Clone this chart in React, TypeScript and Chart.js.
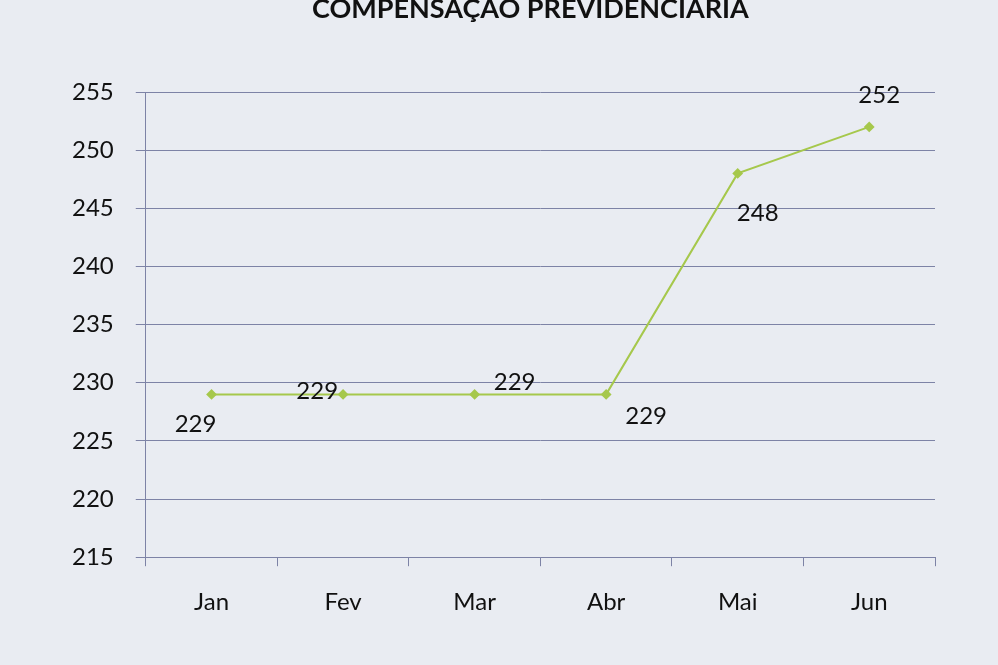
import React, { useEffect, useRef } from "react";
import { Chart, registerables } from "chart.js";

Chart.register(...registerables);

const title = "COMPENSAÇÃO PREVIDENCIÁRIA";
const months = ["Jan", "Fev", "Mar", "Abr", "Mai", "Jun"];
const values = [229, 229, 229, 229, 248, 252];
const valueLabels = ["229", "229", "229", "229", "248", "252"];
const yMin = 215;
const yMax = 255;
const yStep = 5;

// label placement around each point (style only)
const labelPlacement = ["belowLeft", "left", "aboveRight", "belowRight", "belowFar", "above"];

const FONT = "Lato, 'Open Sans', sans-serif";

const labelsPlugin = {
  id: "valueLabels",
  afterDatasetsDraw(chart: any) {
    const ctx = chart.ctx;
    const meta = chart.getDatasetMeta(0);
    ctx.save();
    ctx.font = `24px ${FONT}`;
    ctx.fillStyle = "#111";
    ctx.textBaseline = "middle";
    meta.data.forEach((pt: any, i: number) => {
      const p = labelPlacement[i];
      let dx = 0, dy = 0, align: CanvasTextAlign = "center";
      if (p === "belowLeft") { dx = -16; dy = 30; }
      else if (p === "left") { dx = -5; dy = -3; align = "right"; }
      else if (p === "aboveRight") { dx = 40; dy = -12; }
      else if (p === "belowRight") { dx = 40; dy = 22; }
      else if (p === "belowFar") { dx = 20; dy = 40; }
      else if (p === "above") { dx = 10; dy = -32; }
      ctx.textAlign = align;
      ctx.fillText(valueLabels[i], pt.x + dx, pt.y + dy);
    });
    ctx.restore();
  },
};

const titlePlugin = {
  id: "topTitle",
  afterDraw(chart: any) {
    const ctx = chart.ctx;
    const area = chart.chartArea;
    ctx.save();
    ctx.font = `bold 27px ${FONT}`;
    ctx.fillStyle = "#111";
    ctx.textAlign = "center";
    ctx.textBaseline = "alphabetic";
    ctx.fillText(title, (area.left + area.right) / 2 - 10, 18);
    ctx.restore();
  },
};

const bgPlugin = {
  id: "bg",
  beforeDraw(chart: any) {
    const ctx = chart.ctx;
    ctx.save();
    ctx.fillStyle = "#e9ecf2";
    ctx.fillRect(0, 0, chart.width, chart.height);
    ctx.restore();
  },
};

export default function App() {
  const ref = useRef<HTMLCanvasElement | null>(null);
  useEffect(() => {
    if (!ref.current) return;
    const chart = new Chart(ref.current, {
      type: "line",
      data: {
        labels: months,
        datasets: [
          {
            data: values,
            borderColor: "#a6c84c",
            backgroundColor: "#a6c84c",
            borderWidth: 2,
            pointStyle: "rectRot",
            pointRadius: 4,
            pointHoverRadius: 4,
            tension: 0,
          },
        ],
      },
      options: {
        animation: false,
        responsive: false,
        layout: { padding: { top: 92, right: 63, bottom: 26, left: 50 } },
        plugins: {
          legend: { display: false },
          tooltip: { enabled: false },
          title: { display: false },
        },
        scales: {
          x: {
            offset: true,
            grid: {
              display: true,
              drawOnChartArea: false,
              drawTicks: true,
              tickLength: 9,
              offset: true,
              color: "#7d83a6",
            },
            border: { display: true, color: "#7d83a6", width: 1 },
            ticks: { color: "#111", font: { family: FONT, size: 24 }, padding: 22 },
          },
          y: {
            min: yMin,
            max: yMax,
            ticks: {
              stepSize: yStep,
              color: "#111",
              font: { family: FONT, size: 24 },
              padding: 22,
            },
            grid: { color: "#7d83a6", lineWidth: 1, tickLength: 10 },
            border: { display: true, color: "#7d83a6" },
          },
        },
      },
      plugins: [bgPlugin, labelsPlugin, titlePlugin],
    });
    return () => chart.destroy();
  }, []);
  return (
    <div style={{ position: "fixed", left: 0, top: 0, width: 998, height: 665, background: "#e9ecf2" }}>
      <canvas ref={ref} width={998} height={665} style={{ display: "block", width: 998, height: 665 }} />
    </div>
  );
}
